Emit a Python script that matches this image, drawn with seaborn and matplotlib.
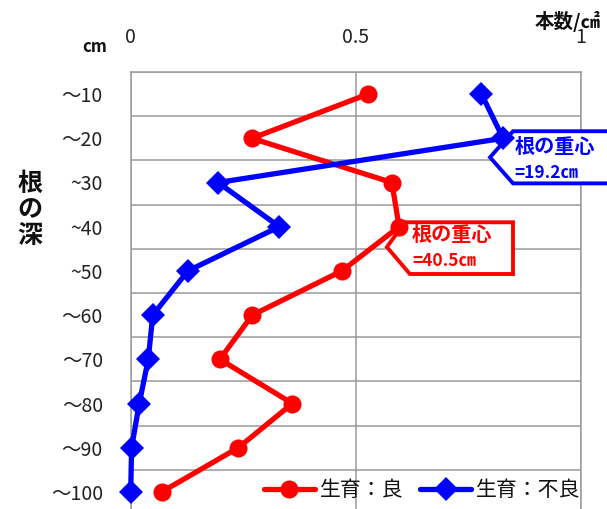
import matplotlib
matplotlib.use("Agg")
import matplotlib.pyplot as plt
from matplotlib.patches import Polygon
from matplotlib.lines import Line2D
import seaborn as sns
import pandas as pd
import numpy as np

# ---- data ----
depth_labels = ["～10", "～20", "~30", "~40", "~50", "～60", "～70", "～80", "～90", "～100"]
good_values = [0.527, 0.269, 0.580, 0.596, 0.469, 0.270, 0.198, 0.359, 0.239, 0.069]
poor_values = [0.779, 0.827, 0.194, 0.330, 0.127, 0.049, 0.039, 0.019, 0.002, 0.000]
series_names = ["生育：良", "生育：不良"]
x_ticks = [0, 0.5, 1]
x_tick_labels = ["0", "0.5", "1"]
center_good = "根の重心\n=40.5㎝"
center_poor = "根の重心\n=19.2㎝"

sns.set_theme(style="white")
plt.rcParams["font.family"] = ["Noto Sans CJK JP", "DejaVu Sans"]

RED = "#FF0000"
BLUE = "#0000FF"

pos = list(range(len(depth_labels)))
df = pd.DataFrame({
    "value": good_values + poor_values,
    "pos": pos + pos,
    "series": [series_names[0]] * len(pos) + [series_names[1]] * len(pos),
})

W, H = 607, 509
fig = plt.figure(figsize=(W / 100, H / 100), dpi=100)
ax_l, ax_r, ax_t, ax_b = 130.7, 581, 72, 514
ax = fig.add_axes([ax_l / W, 1 - ax_b / H, (ax_r - ax_l) / W, (ax_b - ax_t) / H])

sns.lineplot(data=df, x="value", y="pos", hue="series", style="series",
             markers={series_names[0]: "o", series_names[1]: "D"},
             dashes=False, sort=False, estimator=None,
             palette={series_names[0]: RED, series_names[1]: BLUE},
             linewidth=3.8, markersize=13, markeredgewidth=0,
             legend=False, ax=ax, zorder=5)
for ln in ax.lines:
    ln.set_clip_on(False)
    if ln.get_marker() == "D":
        ln.set_markersize(12.5)

ax.set_xlim(0, 1)
ax.set_ylim(len(pos) - 0.5, -0.5)
ax.set_xlabel("")
ax.set_ylabel("")

ax.set_xticks(x_ticks)
ax.set_xticklabels(x_tick_labels)
ax.set_yticks(pos)
ax.set_yticklabels(depth_labels)
ax.set_yticks(np.arange(-0.5, len(pos), 1.0), minor=True)
ax.xaxis.tick_top()
ax.tick_params(axis="x", which="both", length=0, pad=17, labelsize=14, labelcolor="#222222")
ax.tick_params(axis="y", which="both", length=0, pad=20, labelsize=14, labelcolor="#222222")
ax.grid(False)
ax.grid(True, axis="x", which="major", color="#9A9A9A", lw=1.1)
ax.grid(True, axis="y", which="minor", color="#9A9A9A", lw=1.1)
for s in ax.spines.values():
    s.set_color("#9A9A9A")
    s.set_linewidth(1.1)
ax.set_axisbelow(True)

# ---- callouts ----
def callout(anchor, verts, color, text, tx, ty):
    ax_x, ax_y = anchor
    pts = [(ax_x + dx, ax_y + dy) for dx, dy in verts]
    poly = Polygon(pts, closed=True, facecolor="white", edgecolor=color,
                   lw=2.8, zorder=4, clip_on=False, joinstyle="miter")
    ax.add_patch(poly)
    l1, l2 = text.split("\n")
    ax.text(ax_x + tx, ax_y + ty, l1, color=color, fontsize=14.5, fontweight="bold",
            ha="left", va="center", zorder=6, clip_on=False)
    ax.text(ax_x + tx, ax_y + ty + 0.6, l2, color=color, fontsize=12.5, fontweight="bold",
            ha="left", va="center", zorder=6, clip_on=False)

# poor (blue) anchored at its ~20 point
callout((poor_values[1], 1),
        [(0.022, -0.16), (0.40, -0.16), (0.40, 1.02), (0.022, 1.02), (-0.029, 0.43)],
        BLUE, center_poor, 0.026, 0.19)
# good (red) anchored at its ~40 point
callout((good_values[3], 3),
        [(0.013, -0.10), (0.253, -0.10), (0.253, 1.07), (0.024, 1.07), (-0.027, 0.46)],
        RED, center_good, 0.029, 0.18)

# ---- legend ----
handles = [
    Line2D([0], [0], color=RED, lw=3.8, marker="o", markersize=13, markeredgewidth=0),
    Line2D([0], [0], color=BLUE, lw=3.8, marker="D", markersize=12.5, markeredgewidth=0),
]
leg = ax.legend(handles, series_names, ncol=2, loc="center left",
                bbox_to_anchor=(0.272, 0.054), frameon=False, fontsize=15,
                handlelength=2.45, handletextpad=0.25, columnspacing=0.8, borderpad=0)
for t in leg.get_texts():
    t.set_color("#111111")

# ---- extra labels ----
fig.text(601 / W, 1 - 22 / H, "本数/㎠", fontsize=14, fontweight="bold",
         ha="right", va="center", color="#111111")
fig.text(95 / W, 1 - 47 / H, "cm", fontsize=12, fontweight="bold",
         ha="center", va="center", color="#111111")
fig.text(30 / W, 1 - 210 / H, "根\nの\n深", fontsize=18, fontweight="bold",
         ha="center", va="center", color="#111111", linespacing=1.12)

fig.savefig("out.png", dpi=100)
